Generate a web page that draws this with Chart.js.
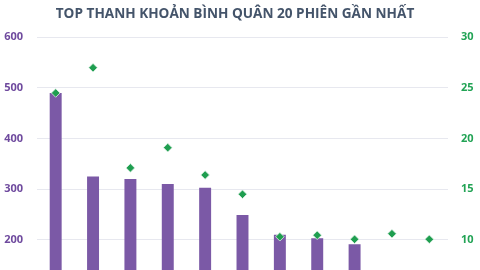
<!DOCTYPE html>
<html>
<head>
<meta charset="utf-8">
<script src="https://cdn.jsdelivr.net/npm/chart.js@4.4.0/dist/chart.umd.min.js"></script>
<style>
  html, body { margin: 0; padding: 0; background: #fff; overflow: hidden; }
  #wrap { width: 480px; height: 367px; position: relative; }
</style>
</head>
<body>
<div id="wrap"><canvas id="mycanvas"></canvas></div>
<script>
// values
var categories = ['1', '2', '3', '4', '5', '6', '7', '8', '9', '10', '11'];
var liquidity = [490, 325, 320, 310, 303, 249, 210, 203, 191, 130, 120];
var ratio = [24.5, 27.0, 17.1, 19.1, 16.4, 14.5, 10.3, 10.45, 10.05, 10.6, 10.05];
var leftTicks = [0, 100, 200, 300, 400, 500, 600];
var rightTicks = [0, 5, 10, 15, 20, 25, 30];

var ctx = document.getElementById('mycanvas');

var chart = new Chart(ctx, {
    type: 'bar',
    data: {
        labels: categories,
        datasets: [
            {
                type: 'line',
                label: 'Ratio',
                data: ratio,
                yAxisID: 'y2',
                showLine: false,
                pointStyle: 'rectRot',
                pointRadius: 4.3,
                backgroundColor: '#1f9e50',
                borderColor: 'rgba(220,240,228,0.8)',
                borderWidth: 1
            },
            {
                label: 'Liquidity',
                data: liquidity,
                yAxisID: 'y',
                backgroundColor: '#7b59a6',
                barPercentage: 0.32,
                categoryPercentage: 1
            }
        ]
    },
    options: {
        responsive: true,
        maintainAspectRatio: false,
        animation: false,
        // negative left padding shifts the centred title a little left, as in the original
        layout: { padding: { left: -10, right: 0, top: 0, bottom: 0 } },
        plugins: {
            legend: { display: false },
            tooltip: { enabled: false },
            title: {
                display: true,
                text: 'TOP THANH KHOẢN BÌNH QUÂN 20 PHIÊN GẦN NHẤT',
                color: '#44546a',
                font: { family: 'Open Sans', size: 13.6, weight: 'bold' },
                padding: { top: 6, bottom: 15 }
            }
        },
        scales: {
            x: {
                grid: { display: false },
                border: { display: false },
                ticks: { color: '#595959', font: { size: 10 } }
            },
            y: {
                position: 'left',
                min: 0,
                max: 600,
                afterBuildTicks: function(axis) {
                    axis.ticks = leftTicks.map(function(v) { return { value: v }; });
                },
                afterFit: function(axis) { axis.width = 47; },
                grid: { color: '#e7e8ef', drawTicks: false },
                border: { display: false },
                ticks: {
                    color: '#6f4a9e',
                    padding: 14,
                    font: { family: 'Open Sans', size: 11, weight: 'bold' }
                }
            },
            y2: {
                position: 'right',
                min: 0,
                max: 30,
                afterBuildTicks: function(axis) {
                    axis.ticks = rightTicks.map(function(v) { return { value: v }; });
                },
                afterFit: function(axis) { axis.width = 32; },
                grid: { display: false, drawTicks: false },
                border: { display: false },
                ticks: {
                    color: '#22a355',
                    padding: 13,
                    font: { family: 'Open Sans', size: 11, weight: 'bold' }
                }
            }
        }
    }
});
</script>
</body>
</html>
